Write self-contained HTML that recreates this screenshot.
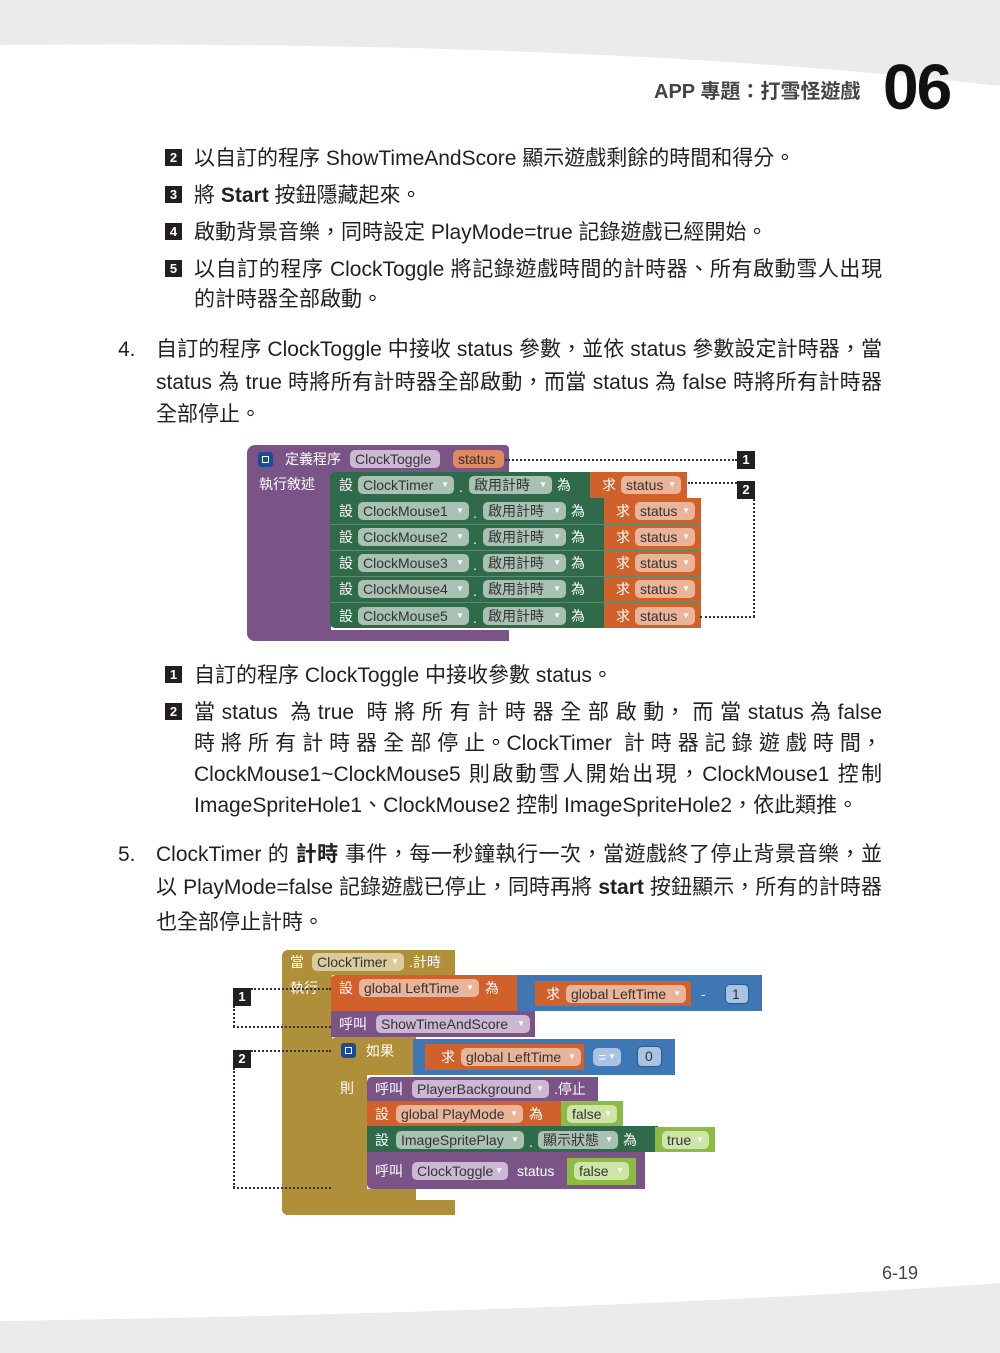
<!DOCTYPE html>
<html><head><meta charset="utf-8">
<style>
*{margin:0;padding:0;box-sizing:border-box}
body{width:1000px;height:1353px;position:relative;background:#fff;overflow:hidden;font-family:"Liberation Sans","Noto Sans CJK TC",sans-serif;color:#231f20}
.a{position:absolute;white-space:nowrap}
.t{position:absolute;font-size:21px;line-height:28px;white-space:nowrap;margin-top:2px}
.j{position:absolute;font-size:21px;line-height:28px;text-align:justify;text-align-last:justify;white-space:nowrap;margin-top:2px}
.nb{position:absolute;width:17px;height:17px;background:#231f20;color:#fff;font-size:13px;font-weight:bold;line-height:17px;text-align:center}
.blk{position:absolute}
.w{position:absolute;color:#fff;font-size:14px;line-height:18px;white-space:nowrap}
.p{position:absolute;height:18px;border-radius:5px;font-size:14px;line-height:18px;color:#333;padding-left:5px;white-space:nowrap}
.p i{font-style:normal;font-size:8px;color:#fff;position:absolute;right:5px;top:0}
.dot{position:absolute;border:0 dotted #333}
</style></head><body>
<svg class="a" style="left:0;top:0" width="1000" height="1353">
<path d="M0 0H1000V86Q600 40 0 45Z" fill="#ebebeb"/>
<path d="M0 1321Q600 1312 1000 1283V1353H0Z" fill="#ebebeb"/>
</svg>
<div class="a" style="left:654px;top:75px;font-size:20px;font-weight:bold;color:#444">APP 專題：打雪怪遊戲</div>
<div class="a" style="left:883px;top:52px;font-size:64px;font-weight:bold;color:#111;letter-spacing:-2px;line-height:70px">06</div>

<div class="nb" style="left:165px;top:149px">2</div>
<div class="t" style="left:194px;top:143px">以自訂的程序 ShowTimeAndScore 顯示遊戲剩餘的時間和得分。</div>
<div class="nb" style="left:165px;top:186px">3</div>
<div class="t" style="left:194px;top:180px">將 <b>Start</b> 按鈕隱藏起來。</div>
<div class="nb" style="left:165px;top:223px">4</div>
<div class="t" style="left:194px;top:217px">啟動背景音樂，同時設定 PlayMode=true 記錄遊戲已經開始。</div>
<div class="nb" style="left:165px;top:260px">5</div>
<div class="j" style="left:194px;top:254px;width:688px">以自訂的程序 ClockToggle 將記錄遊戲時間的計時器、所有啟動雪人出現</div>
<div class="t" style="left:194px;top:284px">的計時器全部啟動。</div>

<div class="t" style="left:118px;top:334px">4.</div>
<div class="j" style="left:156px;top:334px;width:726px">自訂的程序 ClockToggle 中接收 status 參數，並依 status 參數設定計時器，當</div>
<div class="j" style="left:156px;top:367px;width:726px">status 為 true 時將所有計時器全部啟動，而當 status 為 false 時將所有計時器</div>
<div class="t" style="left:156px;top:399px">全部停止。</div>

<!-- Diagram 1 -->
<div class="blk" style="left:247px;top:445px;width:262px;height:29px;background:#7b5487;border-radius:8px 4px 0 0"></div>
<div class="blk" style="left:247px;top:470px;width:84px;height:171px;background:#7b5487;border-radius:0 0 0 8px"></div>
<div class="blk" style="left:247px;top:630px;width:262px;height:11px;background:#7b5487;border-radius:0 0 0 8px"></div>
<div class="blk" style="left:258px;top:452px;width:15px;height:15px;background:#1a4a9a;border-radius:3px"><div style="margin:4px;width:7px;height:7px;border:1px solid #fff"></div></div>
<div class="w" style="left:285px;top:450px">定義程序</div>
<div class="p" style="left:350px;top:450px;width:90px;background:#cdb8d4">ClockToggle</div>
<div class="p" style="left:453px;top:450px;width:51px;background:#e0895e">status</div>
<div class="w" style="left:259px;top:475px">執行敘述</div>

<div class="blk" style="left:330px;top:472px;width:262px;height:26px;background:#2f6a4b;border-radius:5px 0 0 0"></div>
<div class="blk" style="left:590px;top:472px;width:97px;height:26px;background:#d0612b"></div>
<div class="w" style="left:339px;top:476px">設</div>
<div class="p" style="left:358px;top:476px;width:96px;background:#a9c1b3">ClockTimer<i>▼</i></div>
<div class="w" style="left:459px;top:478px">.</div>
<div class="p" style="left:469px;top:476px;width:83px;background:#a9c1b3">啟用計時<i>▼</i></div>
<div class="w" style="left:557px;top:476px">為</div>
<div class="w" style="left:602px;top:476px">求</div>
<div class="p" style="left:621px;top:476px;width:60px;background:#eab49b">status<i>▼</i></div>

<div class="blk" style="left:330px;top:498px;width:276px;height:130px;background:#2f6a4b;border-radius:0 0 0 5px"></div>
<div class="blk" style="left:604px;top:498px;width:97px;height:130px;background:#d0612b"></div>
<div class="blk" style="left:330px;top:524px;width:371px;height:1px;background:#5c8a70"></div>
<div class="blk" style="left:330px;top:550px;width:371px;height:1px;background:#5c8a70"></div>
<div class="blk" style="left:330px;top:576px;width:371px;height:1px;background:#5c8a70"></div>
<div class="blk" style="left:330px;top:602px;width:371px;height:1px;background:#5c8a70"></div>

<div class="w" style="left:339px;top:502px">設</div><div class="p" style="left:358px;top:502px;width:111px;background:#a9c1b3">ClockMouse1<i>▼</i></div><div class="w" style="left:473px;top:504px">.</div><div class="p" style="left:483px;top:502px;width:83px;background:#a9c1b3">啟用計時<i>▼</i></div><div class="w" style="left:571px;top:502px">為</div><div class="w" style="left:616px;top:502px">求</div><div class="p" style="left:635px;top:502px;width:60px;background:#eab49b">status<i>▼</i></div>
<div class="w" style="left:339px;top:528px">設</div><div class="p" style="left:358px;top:528px;width:111px;background:#a9c1b3">ClockMouse2<i>▼</i></div><div class="w" style="left:473px;top:530px">.</div><div class="p" style="left:483px;top:528px;width:83px;background:#a9c1b3">啟用計時<i>▼</i></div><div class="w" style="left:571px;top:528px">為</div><div class="w" style="left:616px;top:528px">求</div><div class="p" style="left:635px;top:528px;width:60px;background:#eab49b">status<i>▼</i></div>
<div class="w" style="left:339px;top:554px">設</div><div class="p" style="left:358px;top:554px;width:111px;background:#a9c1b3">ClockMouse3<i>▼</i></div><div class="w" style="left:473px;top:556px">.</div><div class="p" style="left:483px;top:554px;width:83px;background:#a9c1b3">啟用計時<i>▼</i></div><div class="w" style="left:571px;top:554px">為</div><div class="w" style="left:616px;top:554px">求</div><div class="p" style="left:635px;top:554px;width:60px;background:#eab49b">status<i>▼</i></div>
<div class="w" style="left:339px;top:580px">設</div><div class="p" style="left:358px;top:580px;width:111px;background:#a9c1b3">ClockMouse4<i>▼</i></div><div class="w" style="left:473px;top:582px">.</div><div class="p" style="left:483px;top:580px;width:83px;background:#a9c1b3">啟用計時<i>▼</i></div><div class="w" style="left:571px;top:580px">為</div><div class="w" style="left:616px;top:580px">求</div><div class="p" style="left:635px;top:580px;width:60px;background:#eab49b">status<i>▼</i></div>
<div class="w" style="left:339px;top:607px">設</div><div class="p" style="left:358px;top:607px;width:111px;background:#a9c1b3">ClockMouse5<i>▼</i></div><div class="w" style="left:473px;top:609px">.</div><div class="p" style="left:483px;top:607px;width:83px;background:#a9c1b3">啟用計時<i>▼</i></div><div class="w" style="left:571px;top:607px">為</div><div class="w" style="left:616px;top:607px">求</div><div class="p" style="left:635px;top:607px;width:60px;background:#eab49b">status<i>▼</i></div>

<div class="dot" style="left:505px;top:459px;width:232px;border-top-width:2px"></div>
<div class="nb" style="left:737px;top:451px;width:18px;height:18px">1</div>
<div class="dot" style="left:688px;top:482px;width:49px;border-top-width:2px"></div>
<div class="nb" style="left:737px;top:481px;width:18px;height:18px">2</div>
<div class="dot" style="left:753px;top:499px;height:118px;border-left-width:2px"></div>
<div class="dot" style="left:700px;top:616px;width:55px;border-top-width:2px"></div>

<div class="nb" style="left:165px;top:666px">1</div>
<div class="t" style="left:194px;top:660px">自訂的程序 ClockToggle 中接收參數 status。</div>
<div class="nb" style="left:165px;top:703px">2</div>
<div class="j" style="left:194px;top:697px;width:688px">當 status &nbsp;為 true &nbsp;時 將 所 有 計 時 器 全 部 啟 動， 而 當 status 為 false</div>
<div class="j" style="left:194px;top:728px;width:688px">時 將 所 有 計 時 器 全 部 停 止。ClockTimer &nbsp;計 時 器 記 錄 遊 戲 時 間，</div>
<div class="j" style="left:194px;top:759px;width:688px">ClockMouse1~ClockMouse5 則啟動雪人開始出現，ClockMouse1 控制</div>
<div class="t" style="left:194px;top:790px">ImageSpriteHole1、ClockMouse2 控制 ImageSpriteHole2，依此類推。</div>

<div class="t" style="left:118px;top:839px">5.</div>
<div class="j" style="left:156px;top:839px;width:726px">ClockTimer 的 <b>計時</b> 事件，每一秒鐘執行一次，當遊戲終了停止背景音樂，並</div>
<div class="j" style="left:156px;top:872px;width:726px">以 PlayMode=false 記錄遊戲已停止，同時再將 <b>start</b> 按鈕顯示，所有的計時器</div>
<div class="t" style="left:156px;top:907px">也全部停止計時。</div>

<!-- Diagram 2 -->
<div class="blk" style="left:282px;top:950px;width:173px;height:25px;background:#b08f3a;border-radius:6px 0 0 0"></div>
<div class="blk" style="left:282px;top:970px;width:50px;height:245px;background:#b08f3a;border-radius:0 0 0 6px"></div>
<div class="blk" style="left:282px;top:1200px;width:173px;height:15px;background:#b08f3a;border-radius:0 0 0 6px"></div>
<div class="w" style="left:290px;top:953px">當</div>
<div class="p" style="left:312px;top:953px;width:92px;background:#dccb9c">ClockTimer<i>▼</i></div>
<div class="w" style="left:409px;top:953px">.計時</div>
<div class="w" style="left:290px;top:979px">執行</div>

<div class="blk" style="left:331px;top:975px;width:190px;height:36px;background:#d0612b;border-radius:5px 0 0 0"></div>
<div class="blk" style="left:517px;top:975px;width:245px;height:36px;background:#3f77b5"></div>
<div class="w" style="left:339px;top:979px">設</div>
<div class="p" style="left:359px;top:979px;width:120px;background:#eab49b">global LeftTime<i>▼</i></div>
<div class="w" style="left:485px;top:979px">為</div>
<div class="blk" style="left:535px;top:981px;width:156px;height:25px;background:#d0612b"></div>
<div class="w" style="left:546px;top:985px">求</div>
<div class="p" style="left:566px;top:985px;width:120px;background:#eab49b">global LeftTime<i>▼</i></div>
<div class="w" style="left:701px;top:985px">-</div>
<div class="p" style="left:725px;top:984px;width:24px;height:20px;background:#a8c4e2;border:1px solid #2a5a90;padding-left:6px">1</div>

<div class="blk" style="left:331px;top:1011px;width:204px;height:26px;background:#7b5487"></div>
<div class="w" style="left:339px;top:1015px">呼叫</div>
<div class="p" style="left:376px;top:1015px;width:154px;background:#cdb8d4">ShowTimeAndScore<i>▼</i></div>

<div class="blk" style="left:331px;top:1037px;width:85px;height:38px;background:#b08f3a;border-radius:5px 0 0 0"></div>
<div class="blk" style="left:331px;top:1070px;width:36px;height:130px;background:#b08f3a;border-radius:0 0 0 5px"></div>
<div class="blk" style="left:331px;top:1189px;width:85px;height:11px;background:#b08f3a"></div>
<div class="blk" style="left:341px;top:1043px;width:15px;height:15px;background:#1a4a9a;border-radius:3px"><div style="margin:4px;width:7px;height:7px;border:1px solid #fff"></div></div>
<div class="w" style="left:366px;top:1042px">如果</div>
<div class="w" style="left:340px;top:1079px">則</div>
<div class="blk" style="left:413px;top:1039px;width:262px;height:36px;background:#3f77b5"></div>
<div class="blk" style="left:425px;top:1044px;width:159px;height:26px;background:#d0612b"></div>
<div class="w" style="left:441px;top:1048px">求</div>
<div class="p" style="left:461px;top:1048px;width:120px;background:#eab49b">global LeftTime<i>▼</i></div>
<div class="p" style="left:593px;top:1048px;width:28px;background:#a8c4e2;color:#fff">=<i>▼</i></div>
<div class="p" style="left:637px;top:1046px;width:25px;height:21px;background:#a8c4e2;border:1px solid #2a5a90;padding-left:7px">0</div>

<div class="blk" style="left:367px;top:1077px;width:231px;height:24px;background:#7b5487;border-radius:5px 0 0 0"></div>
<div class="w" style="left:375px;top:1080px">呼叫</div>
<div class="p" style="left:412px;top:1080px;width:137px;background:#cdb8d4">PlayerBackground<i>▼</i></div>
<div class="w" style="left:554px;top:1080px">.停止</div>

<div class="blk" style="left:367px;top:1101px;width:196px;height:25px;background:#d0612b"></div>
<div class="blk" style="left:561px;top:1101px;width:62px;height:25px;background:#8bbb45"></div>
<div class="w" style="left:375px;top:1105px">設</div>
<div class="p" style="left:396px;top:1105px;width:127px;background:#eab49b">global PlayMode<i>▼</i></div>
<div class="w" style="left:529px;top:1105px">為</div>
<div class="p" style="left:567px;top:1105px;width:50px;background:#cfe4a9">false<i>▼</i></div>

<div class="blk" style="left:367px;top:1126px;width:291px;height:26px;background:#2f6a4b"></div>
<div class="blk" style="left:655px;top:1127px;width:60px;height:25px;background:#8bbb45"></div>
<div class="w" style="left:375px;top:1131px">設</div>
<div class="p" style="left:396px;top:1131px;width:128px;background:#a9c1b3">ImageSpritePlay<i>▼</i></div>
<div class="w" style="left:529px;top:1133px">.</div>
<div class="p" style="left:538px;top:1131px;width:80px;background:#a9c1b3">顯示狀態<i>▼</i></div>
<div class="w" style="left:623px;top:1131px">為</div>
<div class="p" style="left:662px;top:1131px;width:47px;background:#cfe4a9">true<i>▼</i></div>

<div class="blk" style="left:367px;top:1152px;width:278px;height:37px;background:#7b5487;border-radius:0 0 0 5px"></div>
<div class="w" style="left:375px;top:1162px">呼叫</div>
<div class="p" style="left:412px;top:1162px;width:96px;background:#cdb8d4">ClockToggle<i>▼</i></div>
<div class="w" style="left:517px;top:1162px">status</div>
<div class="blk" style="left:567px;top:1158px;width:69px;height:27px;background:#8bbb45"></div>
<div class="p" style="left:574px;top:1162px;width:55px;background:#cfe4a9">false<i>▼</i></div>

<div class="nb" style="left:233px;top:988px;width:18px;height:18px">1</div>
<div class="dot" style="left:251px;top:988px;width:80px;border-top-width:2px"></div>
<div class="dot" style="left:233px;top:1006px;height:21px;border-left-width:2px"></div>
<div class="dot" style="left:233px;top:1026px;width:98px;border-top-width:2px"></div>
<div class="nb" style="left:233px;top:1050px;width:18px;height:18px">2</div>
<div class="dot" style="left:251px;top:1050px;width:80px;border-top-width:2px"></div>
<div class="dot" style="left:233px;top:1068px;height:120px;border-left-width:2px"></div>
<div class="dot" style="left:233px;top:1187px;width:98px;border-top-width:2px"></div>

<div class="a" style="left:882px;top:1263px;font-size:18px;color:#444">6-19</div>
</body></html>
